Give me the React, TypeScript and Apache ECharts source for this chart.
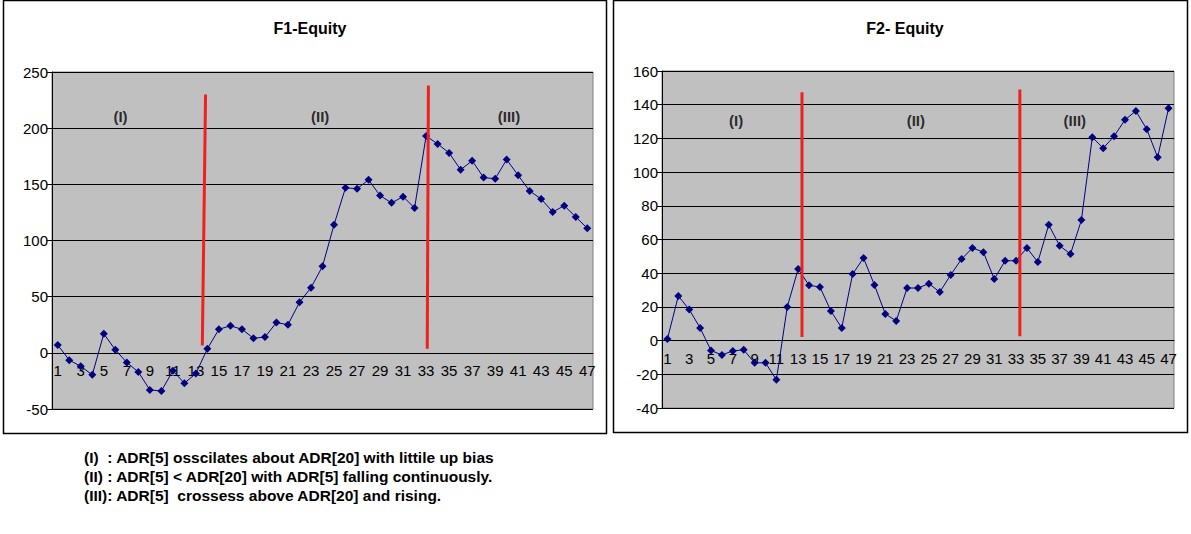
import React, { useEffect, useRef } from 'react';
import * as echarts from 'echarts';

// x categories 1..47
const days = Array.from({ length: 47 }, (_, i) => String(i + 1));

const f1Values = [
  7, -6.5, -12, -19.6, 17, 2.7, -8.6, -17, -33, -34,
  -16, -27, -18.4, 3.6, 21, 24, 21, 13, 14, 27,
  25, 45, 58, 77, 114, 147, 146, 154, 140, 133.5,
  139, 129, 193, 186, 178, 163, 171, 156, 155, 172,
  158, 144, 137, 125.4, 131, 121, 111,
];

const f2Values = [
  1, 26.5, 18.4, 7.5, -5.9, -8.5, -6.1, -5.5, -13.2, -13.2,
  -23.3, 20, 42.5, 32.8, 31.8, 17.6, 7.5, 39.5, 49, 33,
  15.8, 11.7, 31.2, 31.2, 33.8, 28.8, 39, 48.4, 55, 52.5,
  36.5, 47.4, 47.4, 55, 46.6, 68.7, 56.3, 51.4, 71.5, 120.7,
  114.2, 121.3, 131, 136.3, 125.4, 108.8, 137.9,
];

// red divider lines: [xTop, yTop, xBottom, yBottom] in (day, value)
const f1Dividers = [
  [13.84, 230, 13.56, 6.5],
  [33.2, 238, 33.1, 3.6],
];
const f2Dividers = [
  [13.35, 147.4, 13.35, 2.2],
  [33.35, 149, 33.35, 2.6],
];

// region labels: [day, value]
const regionNames = ['(I)', '(II)', '(III)'];
const f1RegionPos = [[6.45, 210.5], [23.8, 210.5], [40.2, 210.5]];
const f2RegionPos = [[7.3, 130.6], [23.8, 130.6], [38.4, 130.6]];

const notes = [
  '(I)  : ADR[5] osscilates about ADR[20] with littile up bias',
  '(II) : ADR[5] < ADR[20] with ADR[5] falling continuously.',
  '(III): ADR[5]  crossess above ADR[20] and rising.',
];

const FONT = '"Liberation Sans", Arial, sans-serif';

const App: React.FC = () => {
  const chartRef = useRef<HTMLDivElement>(null);

  useEffect(() => {
    if (!chartRef.current) return;
    const chart = echarts.init(chartRef.current, undefined, { renderer: 'svg' });

    const boxes = [
      { left: 52, top: 72, width: 541, height: 337 },
      { left: 662, top: 71, width: 512, height: 337 },
    ];
    const ranges = [
      [-50, 250, 50],
      [-40, 160, 20],
    ];

    // grids 0,1 = plots; 2,3 = overlays for dividers and labels;
    // 4,5 = x axes drawn through zero (top of plot down to the zero line)
    const grids = [
      ...boxes.map((g) => ({
        ...g,
        show: true,
        backgroundColor: '#c0c0c0',
        borderColor: '#808080',
        borderWidth: 1,
      })),
      ...boxes.map((g) => ({ ...g, show: false })),
      ...boxes.map((g, i) => ({
        left: g.left,
        top: g.top,
        width: g.width,
        height: (g.height * ranges[i][1]) / (ranges[i][1] - ranges[i][0]),
        show: false,
      })),
    ];

    const plotX = (gridIndex: number) => ({
      type: 'category' as const,
      gridIndex,
      data: days,
      boundaryGap: true,
      axisLine: { show: false },
      axisTick: { show: false },
      axisLabel: { show: false },
      splitLine: { show: false },
    });

    const zeroX = (gridIndex: number) => ({
      type: 'category' as const,
      gridIndex,
      data: days,
      boundaryGap: true,
      axisLine: { show: true, onZero: false, lineStyle: { color: '#000', width: 1 } },
      axisTick: { interval: 0, length: 4, lineStyle: { color: '#000' } },
      axisLabel: {
        interval: 1,
        margin: 10,
        color: '#000',
        fontSize: 15,
        fontFamily: FONT,
      },
      splitLine: { show: false },
    });

    const hiddenX = (gridIndex: number) => ({
      type: 'value' as const,
      gridIndex,
      min: 0.5,
      max: 47.5,
      show: false,
      splitLine: { show: false },
    });

    const valAxis = (gridIndex: number, r: number[]) => ({
      type: 'value' as const,
      gridIndex,
      min: r[0],
      max: r[1],
      interval: r[2],
      axisLine: { show: true, onZero: false, lineStyle: { color: '#000' } },
      axisTick: { show: true, length: 5, lineStyle: { color: '#000' } },
      axisLabel: { color: '#000', fontSize: 15, fontFamily: FONT, margin: 4 },
      splitLine: { show: true, lineStyle: { color: '#000', width: 1 } },
    });

    const hiddenY = (gridIndex: number, min: number, max: number) => ({
      type: 'value' as const,
      gridIndex,
      min,
      max,
      show: false,
      splitLine: { show: false },
    });

    const equitySeries = (idx: number, data: number[]) => ({
      type: 'line' as const,
      xAxisIndex: idx,
      yAxisIndex: idx,
      data,
      symbol: 'diamond',
      symbolSize: 8,
      showSymbol: true,
      showAllSymbol: true,
      lineStyle: { color: '#000080', width: 1 },
      itemStyle: { color: '#000080' },
      z: 3,
    });

    const dividerSeries = (idx: number, divs: number[][]) =>
      divs.map((d) => ({
        type: 'line' as const,
        xAxisIndex: idx + 2,
        yAxisIndex: idx + 2,
        data: [[d[0], d[1]], [d[2], d[3]]],
        symbol: 'none',
        lineStyle: { color: '#ee2020', width: 3 },
        z: 4,
      }));

    const regionSeries = (idx: number, pos: number[][]) => ({
      type: 'scatter' as const,
      xAxisIndex: idx + 2,
      yAxisIndex: idx + 2,
      symbolSize: 0,
      data: pos.map((p, i) => ({ value: p, name: regionNames[i] })),
      label: {
        show: true,
        position: 'inside',
        formatter: (p: any) => p.name,
        color: '#000',
        fontWeight: 'bold',
        fontSize: 15,
        fontFamily: FONT,
      },
      z: 5,
    });

    const option = {
      animation: false,
      backgroundColor: '#fff',
      title: [
        {
          text: 'F1-Equity',
          left: 305,
          top: 15,
          textAlign: 'center',
          textStyle: { fontSize: 16, fontWeight: 'bold', color: '#000', fontFamily: FONT },
        },
        {
          text: 'F2- Equity',
          left: 900,
          top: 15,
          textAlign: 'center',
          textStyle: { fontSize: 16, fontWeight: 'bold', color: '#000', fontFamily: FONT },
        },
      ],
      grid: grids,
      xAxis: [plotX(0), plotX(1), hiddenX(2), hiddenX(3), zeroX(4), zeroX(5)],
      yAxis: [
        valAxis(0, ranges[0]),
        valAxis(1, ranges[1]),
        hiddenY(2, ranges[0][0], ranges[0][1]),
        hiddenY(3, ranges[1][0], ranges[1][1]),
        hiddenY(4, 0, ranges[0][1]),
        hiddenY(5, 0, ranges[1][1]),
      ],
      series: [
        equitySeries(0, f1Values),
        equitySeries(1, f2Values),
        ...dividerSeries(0, f1Dividers),
        ...dividerSeries(1, f2Dividers),
        regionSeries(0, f1RegionPos),
        regionSeries(1, f2RegionPos),
      ],
      graphic: [
        {
          type: 'rect',
          shape: { x: 3.5, y: 0.5, width: 603, height: 433 },
          style: { fill: 'none', stroke: '#000', lineWidth: 1.5 },
          silent: true,
        },
        {
          type: 'rect',
          shape: { x: 613.5, y: 0.5, width: 574, height: 432 },
          style: { fill: 'none', stroke: '#000', lineWidth: 1.5 },
          silent: true,
        },
        ...notes.map((t, i) => ({
          type: 'text',
          left: 84,
          top: 449 + i * 19.3,
          style: {
            text: t,
            fill: '#000',
            font: `bold 15.5px ${FONT}`,
          },
        })),
      ],
    };

    chart.setOption(option as any);

    return () => {
      chart.dispose();
    };
  }, []);

  return (
    <div
      ref={chartRef}
      style={{ position: 'absolute', left: 0, top: 0, width: 1191, height: 534, background: '#fff' }}
    />
  );
};

export default App;
